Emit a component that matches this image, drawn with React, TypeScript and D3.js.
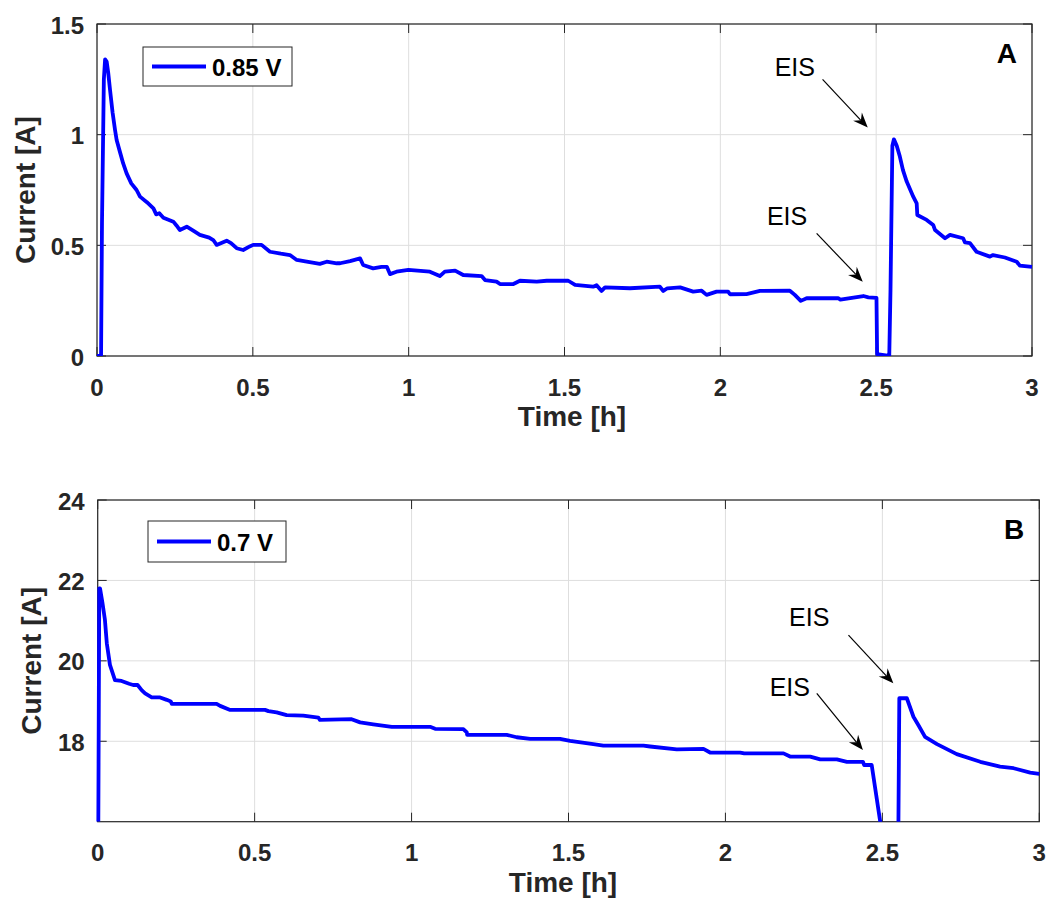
import React from "react";
import * as d3 from "d3";

// ---------- Data ----------
const timeA = [0, 0.013, 0.016, 0.022, 0.026, 0.031, 0.036, 0.042, 0.05, 0.058, 0.063, 0.074, 0.084, 0.095, 0.11, 0.127, 0.138, 0.16, 0.181, 0.19, 0.2, 0.213, 0.245, 0.255, 0.266, 0.288, 0.31, 0.33, 0.36, 0.373, 0.384, 0.416, 0.43, 0.448, 0.469, 0.49, 0.501, 0.528, 0.555, 0.59, 0.619, 0.641, 0.673, 0.715, 0.737, 0.769, 0.78, 0.812, 0.844, 0.854, 0.886, 0.913, 0.93, 0.94, 0.961, 0.999, 1.068, 1.1, 1.116, 1.149, 1.175, 1.234, 1.245, 1.282, 1.293, 1.336, 1.357, 1.411, 1.443, 1.512, 1.534, 1.592, 1.603, 1.619, 1.63, 1.71, 1.806, 1.817, 1.83, 1.871, 1.913, 1.94, 1.956, 1.988, 2.025, 2.031, 2.084, 2.127, 2.223, 2.239, 2.258, 2.277, 2.378, 2.385, 2.459, 2.475, 2.501, 2.503, 2.542, 2.546, 2.552, 2.557, 2.566, 2.576, 2.586, 2.598, 2.619, 2.63, 2.632, 2.662, 2.683, 2.689, 2.721, 2.737, 2.779, 2.785, 2.801, 2.822, 2.865, 2.875, 2.913, 2.951, 2.961, 3.0];
const currentA = [0, 0, 0.6, 1.25, 1.34, 1.33, 1.28, 1.2, 1.1, 1.02, 0.976, 0.92, 0.87, 0.825, 0.78, 0.75, 0.72, 0.695, 0.667, 0.64, 0.645, 0.625, 0.607, 0.59, 0.569, 0.584, 0.565, 0.547, 0.535, 0.524, 0.502, 0.521, 0.51, 0.487, 0.479, 0.495, 0.502, 0.502, 0.471, 0.462, 0.456, 0.434, 0.426, 0.416, 0.426, 0.419, 0.419, 0.429, 0.441, 0.411, 0.396, 0.403, 0.403, 0.37, 0.381, 0.389, 0.381, 0.361, 0.381, 0.386, 0.366, 0.361, 0.343, 0.336, 0.325, 0.325, 0.34, 0.336, 0.34, 0.34, 0.321, 0.313, 0.32, 0.294, 0.31, 0.306, 0.313, 0.294, 0.306, 0.31, 0.291, 0.295, 0.276, 0.291, 0.291, 0.279, 0.28, 0.294, 0.295, 0.276, 0.249, 0.261, 0.261, 0.255, 0.271, 0.265, 0.263, 0.008, 0, 0.3, 0.95, 0.979, 0.95, 0.901, 0.84, 0.788, 0.72, 0.69, 0.637, 0.615, 0.592, 0.569, 0.532, 0.547, 0.532, 0.513, 0.51, 0.471, 0.449, 0.456, 0.445, 0.426, 0.408, 0.403];

const timeB = [0.002, 0.005, 0.0075, 0.015, 0.023, 0.029, 0.039, 0.055, 0.076, 0.1, 0.113, 0.127, 0.14, 0.151, 0.172, 0.199, 0.22, 0.233, 0.236, 0.379, 0.39, 0.422, 0.533, 0.544, 0.57, 0.602, 0.655, 0.703, 0.708, 0.809, 0.836, 0.878, 0.937, 1.059, 1.075, 1.165, 1.176, 1.177, 1.303, 1.335, 1.378, 1.473, 1.505, 1.579, 1.611, 1.739, 1.76, 1.845, 1.93, 1.951, 2.047, 2.06, 2.185, 2.206, 2.27, 2.302, 2.355, 2.387, 2.438, 2.442, 2.466, 2.497, 2.551, 2.554, 2.578, 2.599, 2.615, 2.636, 2.674, 2.737, 2.812, 2.875, 2.918, 2.971, 3.0];
const currentB = [16, 21.8, 21.8, 21.45, 21.02, 20.44, 19.9, 19.52, 19.5, 19.43, 19.4, 19.4, 19.27, 19.19, 19.09, 19.09, 19.03, 18.99, 18.93, 18.93, 18.88, 18.78, 18.78, 18.75, 18.72, 18.65, 18.64, 18.59, 18.53, 18.55, 18.47, 18.42, 18.36, 18.36, 18.31, 18.3, 18.22, 18.16, 18.16, 18.1, 18.06, 18.06, 18.01, 17.93, 17.89, 17.89, 17.87, 17.8, 17.81, 17.72, 17.72, 17.7, 17.7, 17.62, 17.62, 17.55, 17.55, 17.49, 17.49, 17.41, 17.41, 15.8, 15.8, 19.07, 19.07, 18.61, 18.4, 18.11, 17.93, 17.68, 17.49, 17.37, 17.33, 17.22, 17.19];

const xTicks = [0, 0.5, 1, 1.5, 2, 2.5, 3];
const xTickLabels = ["0", "0.5", "1", "1.5", "2", "2.5", "3"];
const yTicksA = [0, 0.5, 1, 1.5];
const yTickLabelsA = ["0", "0.5", "1", "1.5"];
const yTicksB = [18, 20, 22, 24];
const yTickLabelsB = ["18", "20", "22", "24"];

const legendA = "0.85 V";
const legendB = "0.7 V";
const xLabel = "Time [h]";
const yLabel = "Current [A]";

// annotations (data units): text centre, arrow tail, arrow head
const annotA = [
  { text: "EIS", tx: 2.239, ty: 1.306, x0: 2.328, y0: 1.25, x1: 2.473, y1: 1.032 },
  { text: "EIS", tx: 2.214, ty: 0.633, x0: 2.309, y0: 0.554, x1: 2.457, y1: 0.336 },
];
const annotB = [
  { text: "EIS", tx: 2.267, ty: 21.1, x0: 2.392, y0: 20.64, x1: 2.535, y1: 19.44 },
  { text: "EIS", tx: 2.205, ty: 19.36, x0: 2.291, y0: 19.19, x1: 2.438, y1: 17.78 },
];

const FONT = "'Liberation Sans', Arial, Helvetica, sans-serif";
const AX = "#262626";
const GRID = "#dedede";

type Annot = { text: string; tx: number; ty: number; x0: number; y0: number; x1: number; y1: number };

function Arrow({ x0, y0, x1, y1 }: { x0: number; y0: number; x1: number; y1: number }) {
  const dx = x1 - x0, dy = y1 - y0;
  const len = Math.hypot(dx, dy);
  const ux = dx / len, uy = dy / len;
  const px = -uy, py = ux;
  const hl = 15, hw = 6, ind = 10;
  const bx = x1 - ux * hl, by = y1 - uy * hl;
  const ix = x1 - ux * ind, iy = y1 - uy * ind;
  const head = `M${x1},${y1} L${bx + px * hw},${by + py * hw} L${ix},${iy} L${bx - px * hw},${by - py * hw} Z`;
  return (
    <g>
      <line x1={x0} y1={y0} x2={ix} y2={iy} stroke="#000" strokeWidth={1.2} />
      <path d={head} fill="#000" />
    </g>
  );
}

function Panel(props: {
  id: string; left: number; right: number; top: number; bottom: number;
  t: number[]; v: number[]; yDomain: [number, number];
  yTicks: number[]; yTickLabels: string[];
  legend: string; legendBox: { x: number; y: number; w: number; h: number };
  annots: Annot[]; panelLabel: string; xLabelX: number; yLabelX: number;
}) {
  const { left, right, top, bottom } = props;
  const x = d3.scaleLinear().domain([0, 3]).range([left, right]);
  const y = d3.scaleLinear().domain(props.yDomain).range([bottom, top]);
  const pts = props.t.map((tt, i) => [tt, props.v[i]] as [number, number]);
  const line = d3.line<[number, number]>().x((d) => x(d[0])).y((d) => y(d[1]));
  const tl = 9;
  const lb = props.legendBox;
  return (
    <g>
      <defs>
        <clipPath id={`clip-${props.id}`}>
          <rect x={left - 4} y={top} width={right - left + 8} height={bottom - top} />
        </clipPath>
      </defs>
      <rect x={left} y={top} width={right - left} height={bottom - top} fill="#fff" />
      {xTicks.map((d) => (
        <line key={`gx${d}`} x1={x(d)} x2={x(d)} y1={top} y2={bottom} stroke={GRID} strokeWidth={1} />
      ))}
      {props.yTicks.map((d) => (
        <line key={`gy${d}`} x1={left} x2={right} y1={y(d)} y2={y(d)} stroke={GRID} strokeWidth={1} />
      ))}
      {xTicks.map((d) => (
        <g key={`tx${d}`}>
          <line x1={x(d)} x2={x(d)} y1={bottom} y2={bottom - tl} stroke={AX} strokeWidth={1} />
          <line x1={x(d)} x2={x(d)} y1={top} y2={top + tl} stroke={AX} strokeWidth={1} />
        </g>
      ))}
      {props.yTicks.map((d) => (
        <g key={`ty${d}`}>
          <line x1={left} x2={left + tl} y1={y(d)} y2={y(d)} stroke={AX} strokeWidth={1} />
          <line x1={right} x2={right - tl} y1={y(d)} y2={y(d)} stroke={AX} strokeWidth={1} />
        </g>
      ))}
      <rect x={left} y={top} width={right - left} height={bottom - top} fill="none" stroke={AX} strokeWidth={1.2} />
      <path d={line(pts) || ""} fill="none" stroke="#0000ff" strokeWidth={3.8} strokeLinejoin="round" clipPath={`url(#clip-${props.id})`} />
      {xTicks.map((d, i) => (
        <text key={`lx${d}`} x={x(d)} y={bottom + 31} textAnchor="middle" dominantBaseline="central" fontFamily={FONT} fontWeight="bold" fontSize={24} fill={AX}>
          {xTickLabels[i]}
        </text>
      ))}
      {props.yTicks.map((d, i) => (
        <text key={`ly${d}`} x={left - 13} y={y(d) + 1} textAnchor="end" dominantBaseline="central" fontFamily={FONT} fontWeight="bold" fontSize={24} fill={AX}>
          {props.yTickLabels[i]}
        </text>
      ))}
      <text x={props.xLabelX} y={bottom + 70} textAnchor="middle" fontFamily={FONT} fontWeight="bold" fontSize={28} fill={AX}>
        {xLabel}
      </text>
      <text transform={`translate(${props.yLabelX},${(top + bottom) / 2}) rotate(-90)`} textAnchor="middle" dominantBaseline="central" fontFamily={FONT} fontWeight="bold" fontSize={28} fill={AX}>
        {yLabel}
      </text>
      <rect x={lb.x} y={lb.y} width={lb.w} height={lb.h} fill="#fff" stroke={AX} strokeWidth={1} />
      <line x1={lb.x + 9} x2={lb.x + 63} y1={lb.y + lb.h / 2} y2={lb.y + lb.h / 2} stroke="#0000ff" strokeWidth={3.8} />
      <text x={lb.x + 69} y={lb.y + lb.h / 2 + 1} dominantBaseline="central" fontFamily={FONT} fontWeight="bold" fontSize={24} fill="#000">
        {props.legend}
      </text>
      <text x={right - 15} y={top + 29} textAnchor="end" dominantBaseline="central" fontFamily={FONT} fontWeight="bold" fontSize={28} fill="#000">
        {props.panelLabel}
      </text>
      {props.annots.map((a, i) => (
        <g key={`an${i}`}>
          <text x={x(a.tx)} y={y(a.ty)} textAnchor="middle" dominantBaseline="central" fontFamily={FONT} fontSize={25} fill="#000">
            {a.text}
          </text>
          <Arrow x0={x(a.x0)} y0={y(a.y0)} x1={x(a.x1)} y1={y(a.y1)} />
        </g>
      ))}
    </g>
  );
}

export default function App() {
  return (
    <svg width={1048} height={900} style={{ position: "absolute", left: 0, top: 0, background: "#fff" }}>
      <rect x={0} y={0} width={1048} height={900} fill="#fff" />
      <Panel id="a" left={97} right={1032} top={24} bottom={356} t={timeA} v={currentA} yDomain={[0, 1.5]}
        yTicks={yTicksA} yTickLabels={yTickLabelsA} legend={legendA}
        legendBox={{ x: 143, y: 47, w: 149, h: 39 }} annots={annotA} panelLabel="A" xLabelX={572} yLabelX={25} />
      <Panel id="b" left={97.7} right={1039.3} top={500} bottom={821.7} t={timeB} v={currentB} yDomain={[16, 24]}
        yTicks={yTicksB} yTickLabels={yTickLabelsB} legend={legendB}
        legendBox={{ x: 148, y: 521, w: 138, h: 41 }} annots={annotB} panelLabel="B" xLabelX={563} yLabelX={31} />
    </svg>
  );
}
